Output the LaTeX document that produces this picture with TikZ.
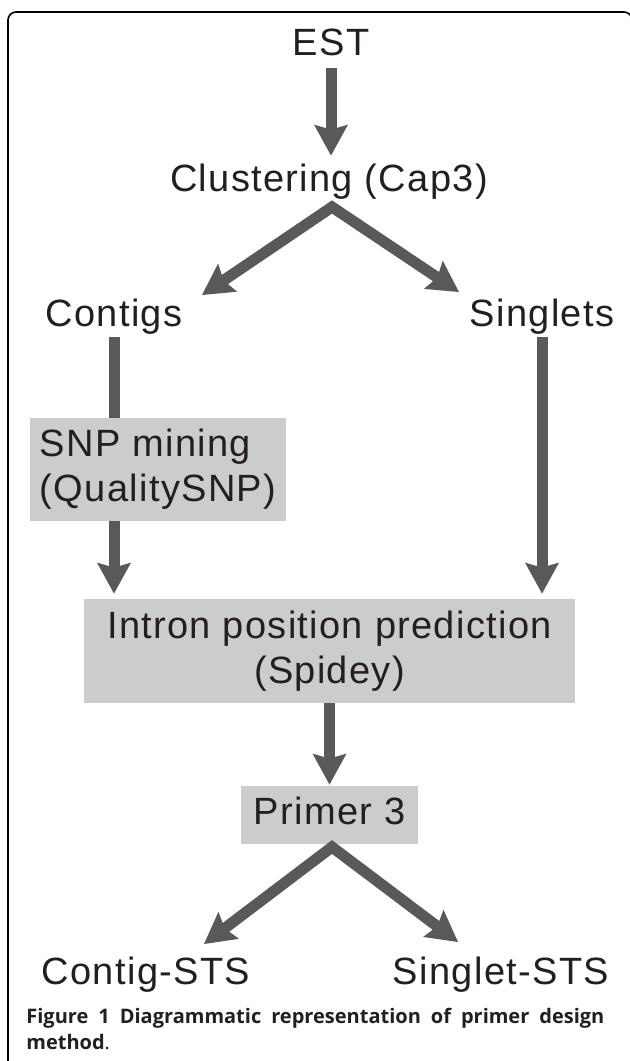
\documentclass[tikz,border=0pt]{standalone}
\usepackage{fontspec}
\newfontfamily\flowfont[LetterSpace=3.5]{Liberation Sans}
\newfontfamily\capfont{Open Sans}
\usetikzlibrary{arrows.meta, positioning}
\definecolor{arrowgrey}{HTML}{58595B}
\definecolor{boxgrey}{HTML}{CBCCCC}
\definecolor{inkblack}{HTML}{231F20}

\tikzset{
  flowtext/.style={font=\flowfont\fontsize{19}{22.5}\selectfont, text=inkblack},
  term/.style={flowtext, inner sep=0pt, text height=13.5pt, text depth=4pt},
  stage/.style={flowtext, fill=boxgrey, inner sep=0pt},
  >={Stealth[length=15.5pt, width=17pt, inset=2.5pt, line width=0pt]},
  flow/.style={draw=arrowgrey, line width=5.5pt, ->},
  fork/.style={draw=arrowgrey, line width=5.5pt, line join=miter, <->},
  rod/.style={draw=arrowgrey, line width=5.5pt}
}

\begin{document}
\begin{tikzpicture}[x=0.5pt, y=-0.5pt]
  \useasboundingbox (0,0) rectangle (629,1061);

  % Frame (open at the bottom and right)
  \draw[black, line width=0.8pt, rounded corners=4pt] (8,1080) -- (8,12) -- (632,12) -- (632,1080);

  % Labels
  \node[term, anchor=base] (est) at (331,55) {EST};
  \node[term, anchor=base] (clust) at (329,191) {Clustering (Cap3)};
  \node[term, anchor=base] (contigs) at (114,326) {Contigs};
  \node[term, anchor=base] (singlets) at (542,326) {Singlets};
  \node[term, anchor=base] (cSTS) at (146,984) {Contig-STS};
  \node[term, anchor=base] (sSTS) at (501,984) {Singlet-STS};

  % Grey boxes
  \node[stage, minimum width=128pt, minimum height=51.5pt, align=left] (snp) at (158,469.5) {SNP mining\\(QualitySNP)};
  \node[stage, minimum width=245.5pt, minimum height=52pt, align=center] (intron) at (329.5,651) {Intron position prediction\\(Spidey)};
  \node[stage, minimum width=88.5pt, minimum height=29pt, text depth=4pt] (primer) at (329.5,815) {Primer 3};

  % Fork points
  \coordinate (forkA) at (332,207);
  \coordinate (tipA1) at (202,295);
  \coordinate (tipA2) at (459,292);
  \coordinate (forkB) at (332,847);
  \coordinate (tipB1) at (204,944);
  \coordinate (tipB2) at (458,942);

  % Connectors
  \draw[flow, shorten <=2.5pt, shorten >=4pt] (est.south) -- (est.south |- clust.north);
  \draw[fork] (tipA1) -- (forkA) -- (tipA2);
  \draw[rod, shorten <=1.5pt] (contigs.south) -- (contigs.south |- snp.north);
  \draw[flow, shorten >=2.5pt] (snp.south -| contigs) -- (contigs |- intron.north);
  \draw[flow, shorten <=1.5pt, shorten >=2.5pt] (singlets.south) -- (singlets |- intron.north);
  \draw[flow, shorten >=0.5pt] (intron.south) -- (primer.north);
  \draw[fork] (tipB1) -- (forkB) -- (tipB2);

  % Caption
  \node[anchor=north west, font=\capfont\fontsize{10}{13}\selectfont, text=inkblack, inner sep=0pt, align=left] (cap) at (26,1008)
    {\makebox[289pt][s]{\bfseries Figure 1 Diagrammatic representation of primer design}\\{\bfseries method}.};
\end{tikzpicture}
\end{document}
